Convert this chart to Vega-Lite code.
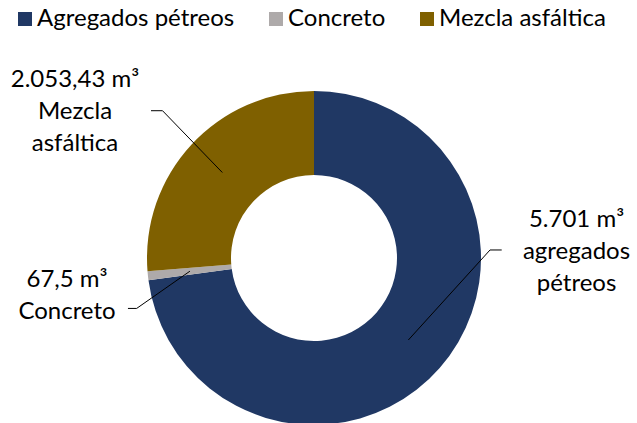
{
  "$schema": "https://vega.github.io/schema/vega-lite/v6.json",
  "width": 628,
  "height": 516,
  "autosize": {"type": "none"},
  "padding": {"left": 0, "top": 0, "right": 9, "bottom": 0},
  "background": "white",
  "config": {"view": {"stroke": null}, "font": "Lato"},
  "datasets": {
    "partes": [
      {"categoria": "Agregados pétreos", "volumen": 5701, "orden": 1},
      {"categoria": "Concreto", "volumen": 67.5, "orden": 2},
      {"categoria": "Mezcla asfáltica", "volumen": 2053.43, "orden": 3}
    ],
    "lineas": [
      {"serie": "Mezcla asfáltica", "paso": 1, "x": -97.6, "y": -88.2},
      {"serie": "Mezcla asfáltica", "paso": 2, "x": -90.7, "y": -88.2},
      {"serie": "Mezcla asfáltica", "paso": 3, "x": -54.9, "y": -51.2},
      {"serie": "Concreto", "paso": 1, "x": -111.4, "y": 30.2},
      {"serie": "Concreto", "paso": 2, "x": -106.2, "y": 30.2},
      {"serie": "Concreto", "paso": 3, "x": -74.3, "y": 7.9},
      {"serie": "Agregados pétreos", "paso": 1, "x": 112.4, "y": -4.8},
      {"serie": "Agregados pétreos", "paso": 2, "x": 105.4, "y": -4.8},
      {"serie": "Agregados pétreos", "paso": 3, "x": 56.5, "y": 49.1}
    ],
    "etiquetas": [
      {"texto": "2.053,43 m³\nMezcla\nasfáltica", "x": -143.1, "y": -102.2},
      {"texto": "67,5 m³\nConcreto", "x": -147.9, "y": 17.5},
      {"texto": "5.701 m³\nagregados\npétreos", "x": 157.2, "y": -18.7}
    ]
  },
  "layer": [
    {
      "data": {"name": "partes"},
      "mark": {"type": "arc", "innerRadius": 83, "outerRadius": 167},
      "encoding": {
        "theta": {"field": "volumen", "type": "quantitative", "stack": true},
        "order": {"field": "orden", "type": "quantitative"},
        "color": {
          "field": "categoria",
          "type": "nominal",
          "scale": {
            "domain": ["Agregados pétreos", "Concreto", "Mezcla asfáltica"],
            "range": ["#203864", "#AEAAAA", "#7F6000"]
          },
          "legend": {
            "title": null,
            "orient": "none",
            "legendX": 13,
            "legendY": 7,
            "direction": "horizontal",
            "symbolType": "square",
            "symbolSize": 196,
            "symbolStrokeWidth": 0,
            "symbolOpacity": 1,
            "labelFont": "Lato",
            "labelFontSize": 24,
            "labelColor": "#000000",
            "labelOffset": 0,
            "columnPadding": 29,
            "padding": 0,
            "labelLimit": 400
          }
        }
      }
    },
    {
      "data": {"name": "lineas"},
      "mark": {"type": "line", "color": "#000000", "strokeWidth": 1},
      "encoding": {
        "x": {"field": "x", "type": "quantitative", "scale": {"domain": [-188.02, 188.02], "nice": false, "zero": false}, "axis": null},
        "y": {"field": "y", "type": "quantitative", "scale": {"domain": [-154.49, 154.49], "nice": false, "zero": false, "reverse": true}, "axis": null},
        "detail": {"field": "serie", "type": "nominal"},
        "order": {"field": "paso", "type": "quantitative"}
      }
    },
    {
      "data": {"name": "etiquetas"},
      "mark": {"type": "text", "align": "center", "baseline": "alphabetic", "fontSize": 24, "lineHeight": 32, "lineBreak": "\n", "color": "#000000", "font": "Lato"},
      "encoding": {
        "x": {"field": "x", "type": "quantitative"},
        "y": {"field": "y", "type": "quantitative"},
        "text": {"field": "texto", "type": "nominal"}
      }
    }
  ]
}
